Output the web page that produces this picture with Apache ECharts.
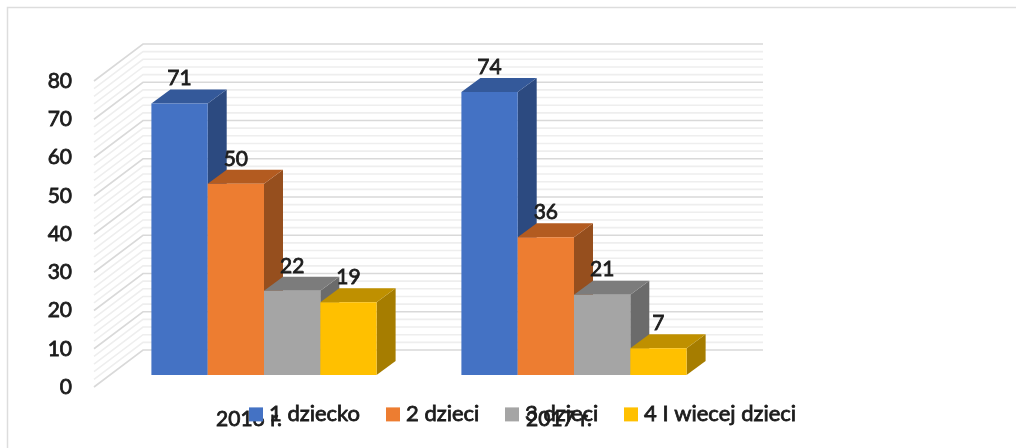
<!DOCTYPE html>
<html>
<head>
<meta charset="utf-8">
<style>
  html, body { margin: 0; padding: 0; background: #fff; }
  #chart { width: 1016px; height: 448px; }
</style>
<script src="https://cdn.jsdelivr.net/npm/echarts@6/dist/echarts.min.js"></script>
</head>
<body>
<div id="chart"></div>
<script>
const categories = ['2016 r.', '2017 r.'];
const seriesNames = ['1 dziecko', '2 dzieci', '3 dzieci', '4 I wiecej dzieci'];
const dziecko1 = [71, 74];
const dzieci2 = [50, 36];
const dzieci3 = [22, 21];
const dzieci4 = [19, 7];
const wallTicks = [0, 2, 4, 6, 8, 10, 12, 14, 16, 18, 20, 22, 24, 26, 28, 30, 32, 34, 36, 38, 40,
  42, 44, 46, 48, 50, 52, 54, 56, 58, 60, 62, 64, 66, 68, 70, 72, 74, 76, 78, 80];

const faceColors = ['#4472C4', '#ED7D31', '#A5A5A5', '#FFC000'];
const topColors = ['#34599A', '#B35B20', '#7C7C7C', '#BF9000'];
const sideColors = ['#2C4A80', '#964F1E', '#6B6B6B', '#A67D00'];

const TEXT = '#1c1c1c';
const FONT = 'Lato, sans-serif';

// the reference text is heavier than Lato regular, thin outline makes up for it
const heavy = { textBorderColor: TEXT, textBorderWidth: 0.8 };

// fake 3d: depth of the whole floor, and of one bar
const WALL_DX = 49, WALL_DY = -37;
const BAR_SHIFT_X = 15, BAR_SHIFT_Y = -12;
const BAR_DX = 19, BAR_DY = -14;
const BAR_W = 56.3;

// one legend per entry, the gaps in the reference are not even
const legendLefts = [244, 381, 500, 619];

function renderWall(params, api) {
  const tick = api.value(0);
  const p = api.coord([0, tick]);
  const x0 = params.coordSys.x;
  const x1 = x0 + params.coordSys.width;
  const major = tick % 10 === 0;
  return {
    type: 'polyline',
    shape: { points: [[x0, p[1]], [x0 + WALL_DX, p[1] + WALL_DY], [x1 + WALL_DX, p[1] + WALL_DY]] },
    style: { fill: null, stroke: major ? '#D9D9D9' : '#EEEEEE', lineWidth: 1.6 }
  };
}

function renderBar(params, api) {
  const idx = params.seriesIndex - 1;
  const cat = api.value(0);
  const val = api.value(1);
  const top = api.coord([cat, val]);
  const base = api.coord([cat, 0]);
  const x0 = top[0] + BAR_SHIFT_X + (idx - 2) * BAR_W;
  const x1 = x0 + BAR_W;
  const yt = top[1] + BAR_SHIFT_Y;
  const yb = base[1] + BAR_SHIFT_Y;
  return {
    type: 'group',
    children: [
      {
        type: 'polygon',
        shape: { points: [[x1, yt], [x1 + BAR_DX, yt + BAR_DY], [x1 + BAR_DX, yb + BAR_DY], [x1, yb]] },
        style: { fill: sideColors[idx] }
      },
      {
        type: 'polygon',
        shape: { points: [[x0, yt], [x0 + BAR_DX, yt + BAR_DY], [x1 + BAR_DX, yt + BAR_DY], [x1, yt]] },
        style: { fill: topColors[idx] }
      },
      {
        type: 'rect',
        shape: { x: x0, y: yt, width: BAR_W, height: yb - yt },
        style: { fill: faceColors[idx] }
      },
      {
        type: 'text',
        x: (x0 + x1) / 2,
        y: yt + BAR_DY - 11,
        style: {
          text: String(val),
          fill: TEXT,
          stroke: TEXT,
          lineWidth: 0.8,
          font: '21px ' + FONT,
          textAlign: 'center',
          textVerticalAlign: 'middle'
        }
      }
    ]
  };
}

const barData = [dziecko1, dzieci2, dzieci3, dzieci4];

const chart = echarts.init(document.getElementById('chart'));
chart.setOption({
  animation: false,
  grid: { left: 94, top: 81, width: 620, height: 306 },
  legend: seriesNames.map((name, i) => ({
    data: [name],
    left: legendLefts[i],
    top: 398,
    icon: 'rect',
    itemWidth: 14,
    itemHeight: 14,
    selectedMode: false,
    textStyle: { color: TEXT, fontFamily: FONT, fontSize: 22, padding: [0, 0, 0, 1], ...heavy }
  })),
  xAxis: {
    type: 'category',
    data: categories,
    axisLine: { show: false },
    axisTick: { show: false },
    axisLabel: { margin: 22, color: TEXT, fontFamily: FONT, fontSize: 21, ...heavy }
  },
  yAxis: {
    type: 'value',
    min: 0,
    max: 80,
    interval: 10,
    axisLine: { show: false },
    axisTick: { show: false },
    splitLine: { show: false },
    axisLabel: { margin: 22, color: TEXT, fontFamily: FONT, fontSize: 21, ...heavy }
  },
  graphic: [{
    type: 'polyline',
    silent: true,
    shape: { points: [[7.5, 448], [7.5, 7.5], [1016, 7.5]] },
    style: { fill: null, stroke: '#DDDDDD', lineWidth: 1.5 }
  }],
  series: [
    {
      type: 'custom',
      name: 'wall',
      silent: true,
      data: wallTicks.map((t) => [t]),
      encode: { y: 0 },
      renderItem: renderWall,
      z: 1
    }
  ].concat(seriesNames.map((name, i) => ({
    type: 'custom',
    name: name,
    itemStyle: { color: faceColors[i] },
    data: barData[i].map((v, c) => [c, v]),
    encode: { x: 0, y: 1 },
    renderItem: renderBar,
    z: 2
  })))
});
</script>
</body>
</html>
